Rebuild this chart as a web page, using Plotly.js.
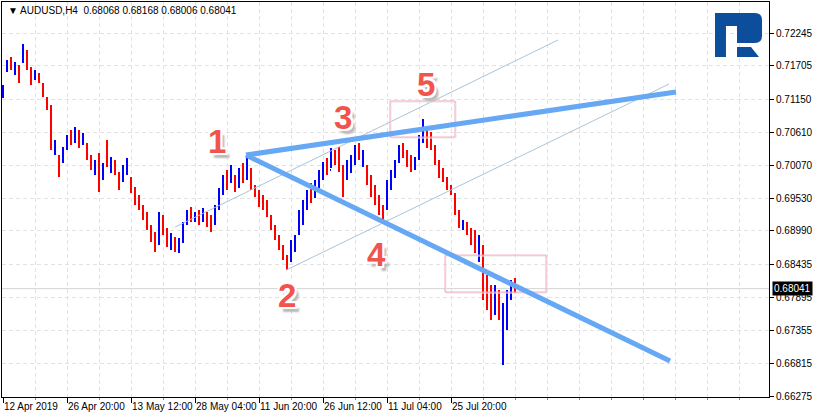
<!DOCTYPE html>
<html><head><meta charset="utf-8">
<script src="https://cdn.plot.ly/plotly-3.0.1.min.js"></script>
<style>body{margin:0;background:#fff}#chart{width:815px;height:419px}</style>
</head><body><div id="chart"></div>
<script>
const symbolTitle = '\u25BC AUDUSD,H4\u00a0\u00a00.68068 0.68168 0.68006 0.68041';
const lastPrice = 0.68041;
const barStep = 4; // each plotted bar groups 4 H4 bars

const openP = [
0.71225,0.71653,0.71801,0.71604,0.71669,0.71801,0.71916,0.71636,0.71505,0.71554,
0.71390,0.71159,0.71011,0.70320,0.70189,0.70156,0.70370,0.70551,0.70485,0.70617,
0.70436,0.70403,0.70205,0.69959,0.70123,0.69860,0.70189,0.69991,0.70123,0.69926,
0.69827,0.69991,0.69827,0.69679,0.69531,0.69383,0.69251,0.69037,0.68906,0.68807,
0.69202,0.69004,0.68741,0.68873,0.68675,0.68840,0.69120,0.69333,0.69169,0.69284,
0.69169,0.69268,0.69202,0.69136,0.69383,0.69630,0.69942,0.69827,0.69876,0.69745,
0.70057,0.69876,0.69991,0.69712,0.69613,0.69531,0.69449,0.69218,0.69054,0.68889,
0.68725,0.68560,0.68544,0.68708,0.68972,0.69169,0.69383,0.69728,0.69564,0.69745,
0.69876,0.70123,0.69991,0.70288,0.70156,0.70024,0.69860,0.70024,0.70156,0.70370,
0.70107,0.70024,0.69827,0.69662,0.69531,0.69366,0.69383,0.69728,0.69909,0.70156,
0.70386,0.70271,0.70189,0.70041,0.70205,0.70485,0.70633,0.70567,0.70353,0.70123,
0.69959,0.69843,0.69712,0.69580,0.69300,0.69037,0.69103,0.69004,0.68922,0.68544,
0.68708,0.68182,0.68017,0.67656,0.67968,0.67359,0.67524,0.67902,0.68165];
const highP = [
0.71390,0.71801,0.71850,0.71768,0.71719,0.72064,0.71965,0.71686,0.71636,0.71587,
0.71423,0.71192,0.71061,0.70485,0.70238,0.70370,0.70567,0.70649,0.70699,0.70649,
0.70600,0.70436,0.70238,0.70156,0.70271,0.70107,0.70485,0.70205,0.70156,0.69959,
0.70074,0.70189,0.69876,0.69712,0.69580,0.69416,0.69300,0.69087,0.68972,0.69300,
0.69251,0.69037,0.68955,0.68889,0.68873,0.69136,0.69333,0.69383,0.69300,0.69333,
0.69366,0.69300,0.69251,0.69416,0.69695,0.69909,0.69991,0.70074,0.69909,0.70024,
0.70107,0.70238,0.70024,0.69745,0.69662,0.69580,0.69498,0.69251,0.69087,0.68922,
0.68758,0.68593,0.68840,0.68922,0.69333,0.69498,0.69662,0.69778,0.69827,0.69991,
0.70123,0.70189,0.70353,0.70320,0.70370,0.70074,0.70156,0.70238,0.70403,0.70436,
0.70320,0.70074,0.69909,0.69745,0.69580,0.69416,0.69827,0.69991,0.70156,0.70403,
0.70436,0.70320,0.70238,0.70205,0.70567,0.70830,0.70682,0.70617,0.70403,0.70156,
0.70024,0.69876,0.69745,0.69613,0.69333,0.69169,0.69136,0.69037,0.69004,0.68922,
0.68758,0.68264,0.68100,0.68100,0.68017,0.67804,0.68017,0.68182,0.68215];
const lowP = [
0.71176,0.71604,0.71636,0.71554,0.71423,0.71752,0.71636,0.71390,0.71472,0.71423,
0.71192,0.70978,0.70320,0.70238,0.69876,0.70107,0.70320,0.70403,0.70436,0.70353,
0.70403,0.70156,0.69991,0.69909,0.69630,0.69827,0.70041,0.69942,0.69909,0.69662,
0.69794,0.69909,0.69613,0.69416,0.69333,0.69169,0.69004,0.68807,0.68643,0.68758,
0.68922,0.68725,0.68675,0.68643,0.68626,0.68791,0.69087,0.69136,0.69136,0.69087,
0.69136,0.69054,0.68972,0.69087,0.69333,0.69580,0.69662,0.69778,0.69630,0.69695,
0.69778,0.69827,0.69662,0.69547,0.69383,0.69333,0.69218,0.69004,0.68840,0.68675,
0.68511,0.68346,0.68478,0.68643,0.68922,0.69087,0.69333,0.69449,0.69531,0.69695,
0.69827,0.69909,0.70024,0.70074,0.69959,0.69547,0.69827,0.69942,0.70074,0.70156,
0.70041,0.69745,0.69547,0.69416,0.69251,0.69136,0.69333,0.69662,0.69860,0.70107,
0.70189,0.70041,0.69959,0.69991,0.70156,0.70436,0.70353,0.70320,0.70074,0.69860,
0.69794,0.69662,0.69580,0.69251,0.69037,0.69004,0.68922,0.68758,0.68626,0.68478,
0.67853,0.67688,0.67524,0.67606,0.67524,0.66784,0.67359,0.67853,0.67968];
const closeP = [
0.71340,0.71752,0.71686,0.71719,0.71472,0.72015,0.71686,0.71439,0.71604,0.71455,
0.71225,0.71011,0.70403,0.70436,0.69959,0.70320,0.70518,0.70452,0.70649,0.70403,
0.70551,0.70205,0.70024,0.70107,0.69827,0.70057,0.70074,0.70156,0.69959,0.69712,
0.70024,0.70123,0.69662,0.69449,0.69383,0.69218,0.69054,0.68873,0.68708,0.69251,
0.68972,0.68774,0.68906,0.68692,0.68840,0.69087,0.69300,0.69202,0.69268,0.69136,
0.69333,0.69103,0.69021,0.69366,0.69646,0.69860,0.69728,0.70024,0.69679,0.69975,
0.69827,0.70156,0.69712,0.69580,0.69432,0.69366,0.69268,0.69037,0.68889,0.68708,
0.68560,0.68429,0.68791,0.68873,0.69284,0.69449,0.69613,0.69498,0.69778,0.69942,
0.70074,0.69959,0.70288,0.70123,0.70024,0.69662,0.70107,0.70189,0.70353,0.70222,
0.70271,0.69794,0.69613,0.69498,0.69333,0.69202,0.69745,0.69942,0.70107,0.70353,
0.70238,0.70090,0.70024,0.70156,0.70518,0.70748,0.70403,0.70370,0.70123,0.69909,
0.69827,0.69695,0.69613,0.69300,0.69087,0.69136,0.68972,0.68791,0.68675,0.68840,
0.68017,0.67771,0.67606,0.68017,0.67573,0.67688,0.67935,0.68133,0.68041];

const xTickIdx = [0, 64, 128, 192, 256, 320, 384, 448];
const xTickText = ['12 Apr 2019','26 Apr 20:00','13 May 12:00','28 May 04:00','11 Jun 20:00','26 Jun 12:00','11 Jul 04:00','25 Jul 20:00'];
const yTickVals = [0.72245,0.71705,0.71150,0.70610,0.70070,0.69530,0.68990,0.68435,0.67895,0.67355,0.66815,0.66275];
const yTickText = ['0.72245','0.71705','0.71150','0.70610','0.70070','0.69530','0.68990','0.68435','0.67895','0.67355','0.66815','0.66275'];

const waveLabels = ['1','2','3','4','5'];
const waveIdx = [214, 284, 340, 373, 423];
const wavePrice = [0.70468, 0.67935, 0.70863, 0.68610, 0.71406];

const xIdx = openP.map((_, i) => i * barStep);

const FONT = 'Liberation Sans, Arial, sans-serif';
const GRID = '#e2e2e2';

// pixel -> paper helper for decorative logo
const W0 = 2, W1 = 769, H0 = 2, H1 = 397;
function pp(px, py){ return ((px-W0)/(W1-W0)).toFixed(4) + ',' + ((H1-py)/(H1-H0)).toFixed(4); }

const trace = {
  type: 'ohlc', x: xIdx, open: openP, high: highP, low: lowP, close: closeP,
  increasing: {line: {color: '#0000ff', width: 2}},
  decreasing: {line: {color: '#ff0000', width: 2}},
  tickwidth: 0.25, hoverinfo: 'skip'
};

const thick = {color: '#66a8f4', width: 5};
const thin = {color: '#a9c4d9', width: 1};
const rectLine = {color: '#f4a7bf', width: 1};

const shapes = [
  {type:'line', xref:'paper', yref:'y', x0:0, x1:1, y0:lastPrice, y1:lastPrice, line:{color:'#d4d4d4', width:1}, layer:'below'},
  {type:'line', xref:'x', yref:'y', x0:172, y0:0.69054, x1:555, y1:0.72130, line:thin},
  {type:'line', xref:'x', yref:'y', x0:283, y0:0.68346, x1:666, y1:0.71406, line:thin},
  {type:'rect', xref:'x', yref:'y', x0:388, x1:453, y0:0.70518, y1:0.71111, line:{color:'#e8e8e8', width:1}},
  {type:'rect', xref:'x', yref:'y', x0:387, x1:452, y0:0.70534, y1:0.71127, line:rectLine},
  {type:'rect', xref:'x', yref:'y', x0:443, x1:544, y0:0.67969, y1:0.68577, line:{color:'#e8e8e8', width:1}},
  {type:'rect', xref:'x', yref:'y', x0:442, x1:543, y0:0.67985, y1:0.68593, line:rectLine},
  {type:'line', xref:'x', yref:'y', x0:243, y0:0.70238, x1:667, y1:0.66849, line:thick},
  {type:'line', xref:'x', yref:'y', x0:243, y0:0.70238, x1:673, y1:0.71275, line:thick},
  // logo
  {type:'path', xref:'paper', yref:'paper', fillcolor:'#0d4e9c', line:{width:0},
   path:'M'+pp(715,13)+' L'+pp(755,13)+' Q'+pp(762,13)+' '+pp(762,20)+' L'+pp(762,36)+' Q'+pp(762,43)+' '+pp(755,43)+' L'+pp(737,43)+' L'+pp(737,26)+' L'+pp(726,26)+' L'+pp(726,57)+' L'+pp(715,57)+' Z'},
  {type:'path', xref:'paper', yref:'paper', fillcolor:'#0d4e9c', line:{width:0},
   path:'M'+pp(737,47)+' L'+pp(751,47)+' L'+pp(759,57)+' L'+pp(737,57)+' Z'}
];

const annotations = [
  {xref:'paper', yref:'paper', x:(6-W0)/(W1-W0), y:(H1-10)/(H1-H0), xanchor:'left', yanchor:'middle', showarrow:false,
   text: symbolTitle, font:{family:FONT, size:10, color:'#000'}}
];
// wave numbers: red face, white rim, grey drop shadow (CSS text-shadow)
waveLabels.forEach((t, i) => {
  annotations.push({xref:'x', yref:'y', x: waveIdx[i], y: wavePrice[i], showarrow:false, text:t,
    font:{family:FONT, size:33, color:'#f0544c', weight:700,
          shadow:'-2px -2px 0 #fff, 2px -2px 0 #fff, -2px 2px 0 #fff, 2px 2px 0 #fff, 4px 5px 2px #b8b8b8'}});
});
annotations.push({xref:'paper', yref:'y', x:1, y:lastPrice, xanchor:'left', yanchor:'middle', xshift:3, showarrow:false,
   text:'0.68041', bgcolor:'#000', borderpad:1, font:{family:FONT, size:10, color:'#fff'}});

const layout = {
  width: 815, height: 419,
  margin: {l: 2, r: 46, t: 2, b: 22},
  paper_bgcolor: '#fff', plot_bgcolor: '#fff',
  showlegend: false, hovermode: false,
  xaxis: {
    range: [-1, 766], tickmode: 'array', tickvals: xTickIdx, ticktext: xTickText, tickangle: 0,
    ticks: 'outside', ticklen: 5, tickcolor: '#000', ticklabelposition: 'outside right',
    showline: true, mirror: true, linecolor: '#000', linewidth: 1,
    showgrid: true, gridcolor: GRID, griddash: '4px,3px', zeroline: false,
    rangeslider: {visible: false}, fixedrange: true,
    tickfont: {family: FONT, size: 10, color: '#000'},
    minor: {tickmode: 'linear', tick0: 0, dtick: 32, ticks: 'outside', ticklen: 2, tickcolor: '#888',
            showgrid: true, gridcolor: GRID, griddash: '4px,3px'}
  },
  yaxis: {
    side: 'right', range: [0.66259, 0.72755], tickmode: 'array', tickvals: yTickVals, ticktext: yTickText,
    ticks: 'outside', ticklen: 4, tickcolor: '#000',
    showline: true, mirror: true, linecolor: '#000', linewidth: 1,
    showgrid: true, gridcolor: GRID, griddash: '4px,3px', zeroline: false, fixedrange: true,
    tickfont: {family: FONT, size: 10, color: '#000'}
  },
  shapes: shapes,
  annotations: annotations
};

Plotly.newPlot('chart', [trace], layout, {displayModeBar: false, staticPlot: true});
</script></body></html>
